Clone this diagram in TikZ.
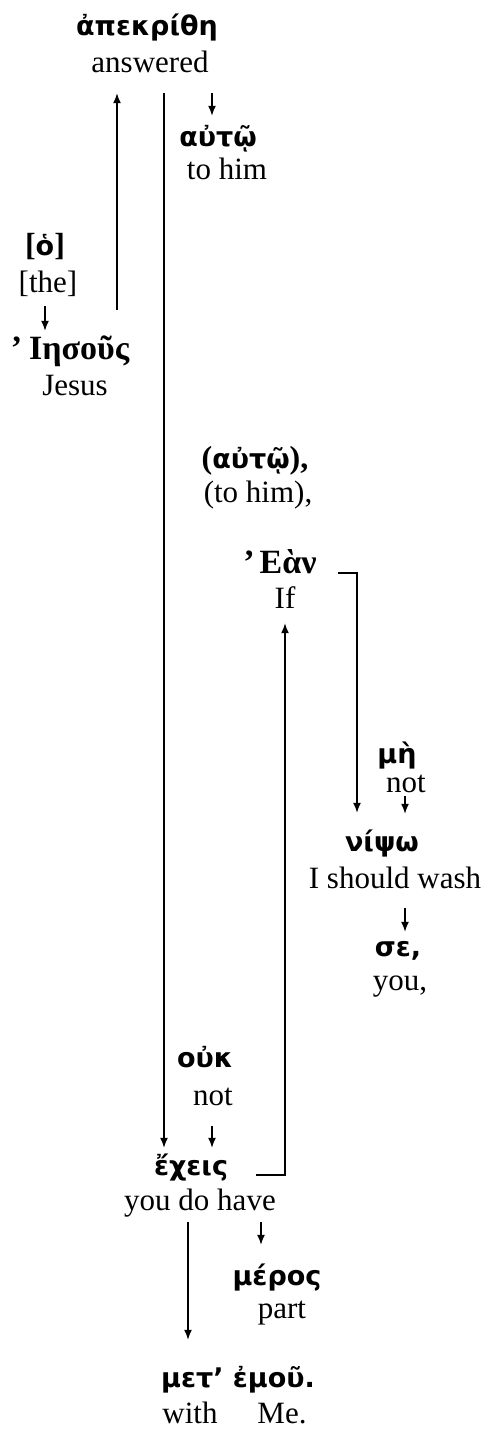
\documentclass[tikz,border=0pt]{standalone}
\usepackage{fontspec}
\setmainfont{Liberation Serif}
\newfontfamily\grk{DejaVu Sans}
\usetikzlibrary{positioning,arrows.meta}
\newcommand{\srf}[1]{{\rmfamily\fontsize{32}{34}\selectfont #1}}

\begin{document}
\begin{tikzpicture}[x=1pt, y=-1pt,
    gr/.style={font=\grk\bfseries\fontsize{27}{30}\selectfont, anchor=base, inner sep=0pt, text height=18pt, text depth=6pt},
    grs/.style={font=\rmfamily\bfseries\fontsize{34}{36}\selectfont, anchor=base, inner sep=0pt, text height=18pt, text depth=6pt},
    gl/.style={font=\fontsize{31}{34}\selectfont, anchor=base, inner sep=0pt, text height=21pt, text depth=7pt},
    arr/.style={-{Latex[length=10pt,width=8pt]}, line width=1.5pt},
    ln/.style={line width=1.5pt}]
    \useasboundingbox (0,0) rectangle (488,1431);
    % Greek words and their glosses
    \node[gr] (apekrithe) at (147,36) {ἀπεκρίθη};
    \node[gl] (answered) at (150,73) {answered};
    \node[gr] (auto) at (218,147) {αὐτῷ};
    \node[gl] (tohim) at (227,180) {to him};
    \node[gr] (ho) at (45,255) {\srf{\bfseries[}ὁ\srf{\bfseries]}};
    \node[gl] (the) at (48,292) {[the]};
    \node[grs] (iesous) at (70,359) {’\hspace{7pt}Ιησοῦς};
    \node[gl] (jesus) at (75,395) {Jesus};
    \node[gr] (autob) at (255,468) {\srf{\bfseries(}αὐτῷ\srf{\bfseries),}};
    \node[gl] (tohimb) at (258,502) {(to him),};
    \node[grs] (ean) at (280,573) {’\hspace{5pt}Εὰν};
    \node[gl] (if) at (285,608) {If};
    \node[gr] (me) at (397,763) {μὴ};
    \node[gl] (nota) at (406,792) {not};
    \node[gr] (nipso) at (382,851) {νίψω};
    \node[gl] (wash) at (395,888) {I should wash};
    \node[gr] (se) at (398,956) {σε,};
    \node[gl] (you) at (400,990) {you,};
    \node[gr] (ouk) at (205,1067) {οὐκ};
    \node[gl] (notb) at (213,1105) {not};
    \node[gr] (echeis) at (191,1175) {ἔχεις};
    \node[gl] (have) at (200,1210) {you do have};
    \node[gr] (meros) at (277,1285) {μέρος};
    \node[gl] (part) at (282,1318) {part};
    \node[gr] (metemou) at (238,1387) {μετ’ ἐμοῦ.};
    \node[gl] (with) at (190,1423) {with};
    \node[gl] (mee) at (282,1423) {Me.};
    % Columns for the vertical connectors
    \coordinate (cho) at (45,0);
    \coordinate (cjes) at (117,0);
    \coordinate (cans) at (164,0);
    \coordinate (cto) at (212,0);
    \coordinate (cif) at (285,0);
    \coordinate (cnip) at (357,0);
    \coordinate (cnot) at (405,0);
    \coordinate (cmet) at (188,0);
    \coordinate (cmer) at (261,0);
    % Connectors
    \draw[arr, shorten <=31pt, shorten >=13pt] (iesous.north -| cjes) -- (answered.south -| cjes);
    \draw[arr, shorten <=13pt, shorten >=9pt] (answered.south -| cans) -- (echeis.north -| cans);
    \draw[arr, shorten <=13pt, shorten >=13pt] (answered.south -| cto) -- (auto.north -| cto);
    \draw[arr, shorten <=7pt, shorten >=10pt] (the.south -| cho) -- (iesous.north -| cho);
    \draw[arr, shorten >=20pt] ([xshift=21pt]ean.base east) -| (nipso.north -| cnip);
    \draw[arr, shorten >=8pt] ([xshift=28pt]echeis.base east) -| (if.south -| cif);
    \draw[arr, shorten <=-3pt, shorten >=19pt] (nota.south -| cnot) -- (nipso.north -| cnot);
    \draw[arr, shorten <=13pt, shorten >=6pt] (wash.south -| cnot) -- (se.north -| cnot);
    \draw[arr, shorten <=14pt, shorten >=9pt] (notb.south -| cto) -- (echeis.north -| cto);
    \draw[arr, shorten <=5pt, shorten >=29pt] (have.south -| cmet) -- (metemou.north -| cmet);
    \draw[arr, shorten <=5pt, shorten >=22pt] (have.south -| cmer) -- (meros.north -| cmer);
\end{tikzpicture}
\end{document}
